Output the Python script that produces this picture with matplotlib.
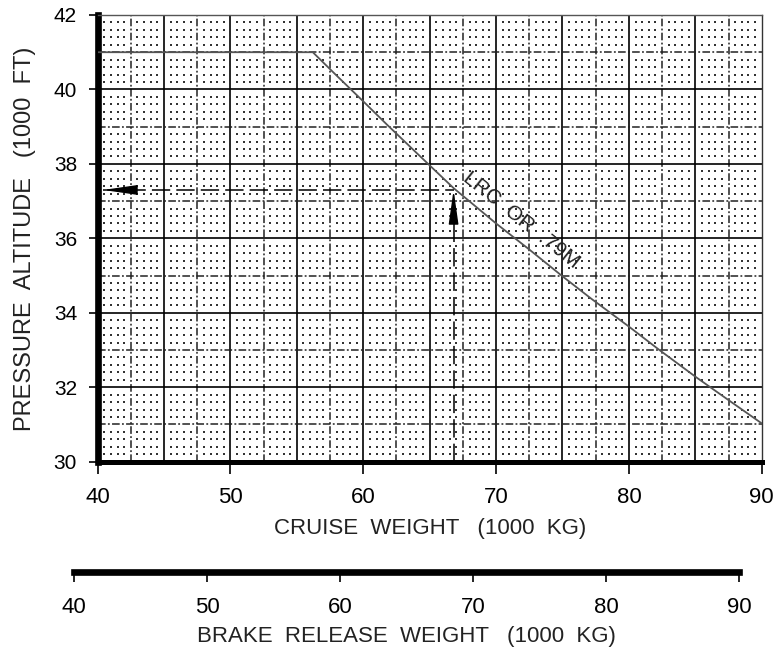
import matplotlib.pyplot as plt
import numpy as np

plt.rcParams['font.family'] = ['Liberation Sans', 'DejaVu Sans']

# LRC / M.79 optimum altitude line
cruise_weight = [40, 56.2, 58, 60, 61.8, 64, 66.8, 70, 72.5, 75, 77.2, 80, 82.3, 85.1, 87.6, 90]
pressure_alt = [41.0, 41.0, 40.37, 39.68, 39.05, 38.3, 37.35, 36.4, 35.7, 34.98, 34.37, 33.63,
                33.0, 32.26, 31.63, 31.03]
curve_label = "LRC  OR  .79M"

# worked example reading
example_weight = 66.8
example_alt = 37.3

x_ticks = [40, 50, 60, 70, 80, 90]
y_ticks = [30, 32, 34, 36, 38, 40, 42]
brake_ticks = [40, 50, 60, 70, 80, 90]

fig = plt.figure(figsize=(7.76, 6.55), dpi=100)
ax = fig.add_axes([0.1258, 0.2951, 0.8558, 0.682])
ax.set_xlim(40, 90)
ax.set_ylim(30, 42)

# chart paper grid
dashdot = (0, (5, 1.5, 1.2, 1.5))
for x in np.arange(45, 90, 5):
    ax.axvline(x, color='black', lw=1.2, zorder=1)
for x in np.arange(42.5, 90, 5):
    ax.axvline(x, color='#222222', lw=1.1, ls=dashdot, zorder=1)
for y in np.arange(32, 42, 2):
    ax.axhline(y, color='black', lw=1.2, zorder=1)
for y in np.arange(31, 42, 2):
    ax.axhline(y, color='#222222', lw=1.1, ls=dashdot, zorder=1)

gx, gy = np.meshgrid(np.arange(40.5, 90, 0.5), np.arange(30.2, 42, 0.2))
on_line = np.isclose(np.round(gx / 2.5) * 2.5, gx) | np.isclose(np.round(gy), gy)
ax.scatter(gx[~on_line], gy[~on_line], s=2.2, marker='s', color='#333333',
           linewidths=0, zorder=1)

ax.plot(cruise_weight, pressure_alt, color='#555555', lw=1.3, zorder=3)
ax.text(71.9, 36.5, curve_label, rotation=-38.5, rotation_mode='anchor',
        ha='center', va='center', fontsize=15, color='#222222', zorder=4)

# example reading lines
ax.plot([example_weight, example_weight], [30, example_alt - 0.6], color='black',
        lw=1.1, ls=(0, (12, 4)), zorder=3)
ax.plot([40.4, example_weight], [example_alt, example_alt], color='black',
        lw=1.1, ls=(0, (12, 4)), zorder=3)
head = dict(arrowstyle='-|>,head_length=2.1,head_width=0.3', mutation_scale=10,
            color='black', lw=1.0, shrinkA=0, shrinkB=0)
ax.annotate('', xy=(example_weight, example_alt), xytext=(example_weight, example_alt - 0.8),
            arrowprops=head, zorder=4)
ax.annotate('', xy=(40.4, example_alt), xytext=(42.2, example_alt),
            arrowprops=head, zorder=4)

ax.set_xticks(x_ticks)
ax.set_yticks(y_ticks)
ax.tick_params(axis='x', direction='out', length=8.4, width=1.2, labelsize=16, pad=10)
ax.tick_params(axis='y', direction='out', length=6.8, width=1.2, labelsize=15, pad=8)
ax.spines['left'].set_linewidth(4.8)
ax.spines['bottom'].set_linewidth(3.6)
ax.spines['top'].set_linewidth(1.0)
ax.spines['top'].set_color('#555555')
ax.spines['right'].set_linewidth(1.0)
ax.spines['right'].set_color('#333333')
ax.set_xlabel("CRUISE  WEIGHT   (1000  KG)", fontsize=16, color='#222222', labelpad=7)
ax.set_ylabel("PRESSURE  ALTITUDE   (1000  FT)", fontsize=17, color='#222222', labelpad=13)

# brake release weight scale
ax2 = fig.add_axes([0.0957, 0.1272, 0.8566, 0.001])
ax2.set_xlim(40, 90)
ax2.set_yticks([])
ax2.set_xticks(brake_ticks)
for side in ['left', 'right', 'top']:
    ax2.spines[side].set_visible(False)
ax2.spines['bottom'].set_linewidth(4.8)
ax2.patch.set_visible(False)
ax2.tick_params(axis='x', direction='out', length=7, width=1.2, labelsize=16, pad=11)
ax2.set_xlabel("BRAKE  RELEASE  WEIGHT   (1000  KG)", fontsize=16, color='#222222', labelpad=6)

fig.savefig('out.png', dpi=100)
